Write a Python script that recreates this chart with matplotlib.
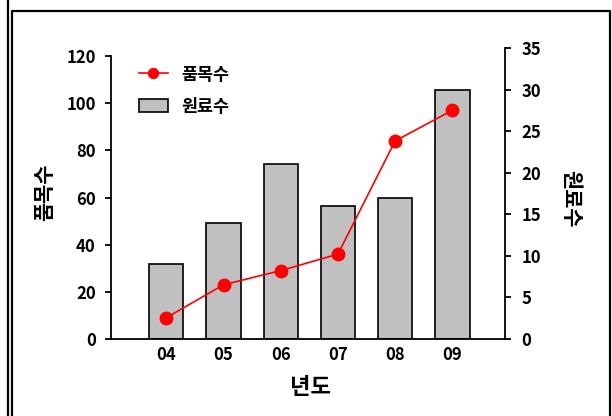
import matplotlib
matplotlib.use("Agg")
import matplotlib.pyplot as plt
from matplotlib.lines import Line2D

plt.rcParams['font.family'] = ['Noto Sans CJK KR', 'DejaVu Sans']
plt.rcParams['font.weight'] = 'bold'

years = ['04', '05', '06', '07', '08', '09']
item_counts = [9, 23, 29, 36, 84, 97]       # 품목수 (left axis)
material_counts = [9, 14, 21, 16, 17, 30]   # 원료수 (right axis)
left_ticks = [0, 20, 40, 60, 80, 100, 120]
right_ticks = [0, 5, 10, 15, 20, 25, 30, 35]

W, H = 612, 416
fig = plt.figure(figsize=(W / 100, H / 100), dpi=100)
ax = fig.add_axes([111 / W, 1 - 339 / H, (505 - 111) / W, (339 - 48) / H])
ax2 = ax.twinx()

x = list(range(len(years)))

# bars on the right axis
ax2.bar(x, material_counts, width=0.6, color='#C0C0C0', edgecolor='black',
        linewidth=1.2, label='원료수')
ax2.set_ylim(0, 35)
ax2.set_yticks(right_ticks)

# line on the left axis, drawn above the bars
ax.set_zorder(ax2.get_zorder() + 1)
ax.patch.set_visible(False)
ax.plot(x, item_counts, color='#FF0000', linewidth=1.2, marker='o',
        markersize=9, markerfacecolor='#FF0000', markeredgecolor='#FF0000',
        label='품목수')
ax.set_ylim(0, 123.4)
ax.set_yticks(left_ticks)
ax.set_xlim(-0.967, 5.92)
ax.set_xticks(x)
ax.set_xticklabels(years)

for a in (ax, ax2):
    a.spines['top'].set_visible(False)
ax.spines['right'].set_visible(False)
ax2.spines['left'].set_visible(False)
ax2.spines['bottom'].set_visible(False)
ax.spines['left'].set_bounds(0, 120)
for s in ('left', 'bottom'):
    ax.spines[s].set_linewidth(1.3)
ax2.spines['right'].set_linewidth(1.3)

ax.tick_params(axis='y', direction='out', length=4, width=1.3, pad=7,
               labelsize=12)
ax.tick_params(axis='x', length=0, pad=5, labelsize=12)
ax2.tick_params(axis='y', direction='out', length=4, width=1.3, pad=8,
                labelsize=12)
for lab in ax.get_yticklabels() + ax.get_xticklabels() + ax2.get_yticklabels():
    lab.set_fontweight('bold')

# axis titles
fig.text(45 / W, 1 - 192 / H, '품목수', rotation=90, ha='center', va='center',
         fontsize=15, fontweight='bold')
fig.text(571 / W, 1 - 199 / H, '원료수', rotation=-90, ha='center', va='center',
         fontsize=15, fontweight='bold')
fig.text(310 / W, 1 - 388 / H, '년도', ha='center', va='center',
         fontsize=16, fontweight='bold')

# legend
h1, l1 = ax.get_legend_handles_labels()
h2, l2 = ax2.get_legend_handles_labels()
leg = ax.legend(h1 + h2, l1 + l2, loc='upper left',
                bbox_to_anchor=(123 / W, 1 - 50 / H), bbox_transform=fig.transFigure,
                frameon=False, fontsize=12.5, handlelength=1.7, handleheight=0.86,
                labelspacing=0.8, handletextpad=0.75, markerscale=0.8)
for t in leg.get_texts():
    t.set_fontweight('bold')

# outer frame
lw = 1.6
fig.add_artist(Line2D([8 / W, 8 / W], [0, 1], transform=fig.transFigure,
                      color='black', linewidth=lw))
fig.add_artist(Line2D([12 / W, 12 / W, 610 / W, 610 / W],
                      [0, 1 - 11 / H, 1 - 11 / H, 0], transform=fig.transFigure,
                      color='black', linewidth=lw))

fig.savefig('out.png', dpi=100)
